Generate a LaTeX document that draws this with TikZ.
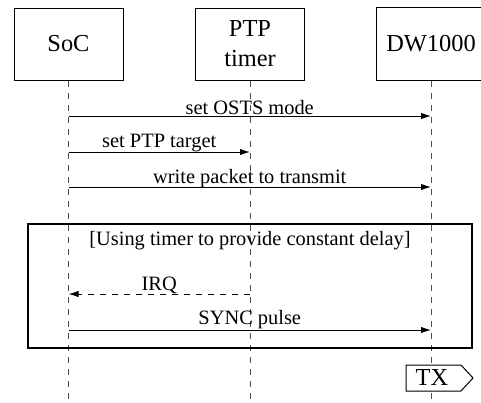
\documentclass[tikz,border=0pt]{standalone}
\usepackage{fontspec}
\setmainfont{Liberation Serif}
\usetikzlibrary{arrows.meta}
\begin{document}
\begin{tikzpicture}[x=0.5pt,y=-0.5pt,
  actor/.style={draw,line width=0.5pt,minimum width=54.5pt,minimum height=36pt,inner sep=0pt,align=center,font=\fontsize{12.2}{15}\selectfont},
  edgeline/.style={line width=0.5pt},
  lifeline/.style={dashed,line width=0.5pt,black!70},
  msg/.style={line width=0.5pt,-{Latex[length=5pt,width=3.2pt]}},
  rmsg/.style={msg,dashed},
  lbl/.style={anchor=base,inner sep=0pt,font=\fontsize{10.2}{12}\selectfont},
  framebox/.style={draw,line width=1.1pt},
  sigline/.style={draw,line width=0.5pt,fill=white},
  sigtext/.style={inner sep=0pt,font=\fontsize{12.2}{15}\selectfont}]
\useasboundingbox (0,0) rectangle (481,402);
\clip (0,0) rectangle (481,402);
\node[actor] (soc) at (68.5,44) {SoC};
\node[actor] (ptp) at (250,44) {PTP\\timer};
\node[actor,draw=none] (dw) at (431,44) {DW1000};
\coordinate (edge) at (500,0);
\draw[edgeline] (edge |- dw.north) -- (dw.north west) -- (dw.south west) -- (edge |- dw.south);
\coordinate (bot) at (0,402);
\draw[lifeline] (soc.south) -- (soc.south |- bot);
\draw[lifeline] (ptp.south) -- (ptp.south |- bot);
\draw[lifeline] (dw.south) -- (dw.south |- bot);
% frame
\coordinate (fa) at (28,224);
\coordinate (fb) at (472,348);
\draw[framebox] (fa) rectangle (fb);
\node[lbl] (ftxt) at (250,245) {[Using timer to provide constant delay]};
% messages
\coordinate (y1) at (0,116);
\coordinate (y2) at (0,152);
\coordinate (y3) at (0,187);
\coordinate (y4) at (0,294);
\coordinate (y5) at (0,330);
\draw[msg] (soc.south |- y1) -- node[lbl,yshift=1pt] (l1) {set OSTS mode} (dw.south |- y1);
\draw[msg] (soc.south |- y2) -- node[lbl,yshift=2.5pt] (l2) {set PTP target} (ptp.south |- y2);
\draw[msg] (soc.south |- y3) -- node[lbl,yshift=2pt] (l3) {write packet to transmit} (dw.south |- y3);
\draw[rmsg] (ptp.south |- y4) -- node[lbl,yshift=2pt] (l4) {IRQ} (soc.south |- y4);
\draw[msg] (soc.south |- y5) -- node[lbl,yshift=3pt] (l5) {SYNC pulse} (dw.south |- y5);
% TX signal
\coordinate (ta) at (406,365);
\coordinate (tb) at (461,365);
\coordinate (tc) at (473,378);
\coordinate (td) at (461,391);
\coordinate (te) at (406,391);
\draw[sigline] (ta) -- (tb) -- (tc) -- (td) -- (te) -- cycle;
\node[sigtext] (tx) at (432,378) {TX};
\end{tikzpicture}
\end{document}
